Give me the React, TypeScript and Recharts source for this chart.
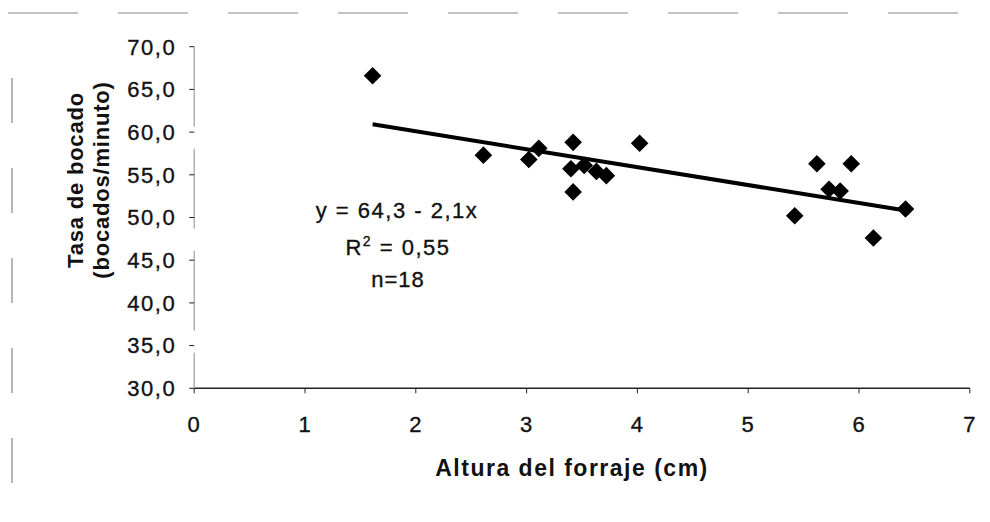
import React from 'react';
import { ScatterChart, Scatter, XAxis, YAxis } from 'recharts';

// Altura del forraje (cm) y tasa de bocado (bocados/minuto), n = 18
const alturas = [1.61, 2.61, 3.02, 3.11, 3.42, 3.42, 3.4, 3.52, 3.63, 3.72, 4.02, 5.42, 5.62, 5.73, 5.83, 5.93, 6.13, 6.42];
const tasas = [66.6, 57.3, 56.8, 58.1, 58.8, 53.0, 55.7, 56.1, 55.4, 54.9, 58.7, 50.2, 56.3, 53.3, 53.1, 56.3, 47.6, 51.0];

// recta de regresión: y = 64,3 - 2,1x
const intercepto = 64.3;
const pendiente = -2.1;

const xTicks = [0, 1, 2, 3, 4, 5, 6, 7];
const yTicks = [30, 35, 40, 45, 50, 55, 60, 65, 70];

const FONT = '"Liberation Sans", Arial, sans-serif';
const INK = '#111';

const puntos = alturas.map((x, i) => ({ x, y: tasas[i] }));
const xMin = Math.min(...alturas);
const xMax = Math.max(...alturas);
const tendencia = [xMin, xMax].map((x) => ({ x, y: intercepto + pendiente * x }));

const coma = (v: number) => v.toFixed(1).replace('.', ',');

// trazo fino para que el texto se vea algo más grueso
const tickStyle = {
  fill: INK,
  stroke: INK,
  strokeWidth: 0.35,
  fontSize: 22,
  fontFamily: FONT,
};

const Rombo = (props: any) => {
  const { cx, cy } = props;
  const r = 8.8;
  return (
    <polygon
      points={`${cx},${cy - r} ${cx + r},${cy} ${cx},${cy + r} ${cx - r},${cy}`}
      fill="#000"
    />
  );
};

const Nada = () => <g />;

export default function App() {
  return (
    <div style={{ position: 'relative', width: 974, height: 514, background: '#fff' }}>
      <ScatterChart
        width={974}
        height={506}
        margin={{ top: 38.7, right: 12.2, bottom: 65.7, left: 0 }}
      >
        <XAxis
          type="number"
          dataKey="x"
          domain={[0, 7]}
          ticks={xTicks}
          interval={0}
          height={60}
          axisLine={{ stroke: '#222', strokeWidth: 1.5 }}
          tickLine={{ stroke: '#222', strokeWidth: 1 }}
          tickSize={5}
          tickMargin={23}
          tick={{ ...tickStyle, letterSpacing: 1 }}
        />
        <YAxis
          type="number"
          dataKey="y"
          domain={[30, 70]}
          ticks={yTicks}
          interval={0}
          width={186.2}
          tickFormatter={coma}
          axisLine={{ stroke: '#8c8c8c', strokeWidth: 1, strokeDasharray: '80 22' }}
          tickLine={{ stroke: '#222', strokeWidth: 1 }}
          tickSize={5}
          tickMargin={13}
          tick={{ ...tickStyle, letterSpacing: 1.5 }}
        />
        <Scatter
          data={tendencia}
          shape={Nada}
          line={{ stroke: '#000', strokeWidth: 4 }}
          isAnimationActive={false}
        />
        <Scatter data={puntos} shape={Rombo} isAnimationActive={false} />
      </ScatterChart>

      <svg
        width={974}
        height={514}
        style={{ position: 'absolute', left: 0, top: 0, pointerEvents: 'none' }}
        fontFamily={FONT}
        fill={INK}
      >
        {/* marco del gráfico */}
        <line x1={0} y1={5} x2={974} y2={5} stroke="#888" strokeWidth={1.2} strokeDasharray="70 40" />
        <line x1={4} y1={70} x2={4} y2={512} stroke="#888" strokeWidth={1.2} strokeDasharray="45 45" />

        {/* ecuación de la recta */}
        <g stroke={INK} strokeWidth={0.35}>
          <text x={389} y={202} dy="0.35em" textAnchor="middle" fontSize={22} letterSpacing={1.5}>
            y = 64,3 - 2,1x
          </text>
          <text x={390} y={239} dy="0.35em" textAnchor="middle" fontSize={22} letterSpacing={1.5}>
            R<tspan fontSize={14} dy="-9">2</tspan>
            <tspan dy="9"> = 0,55</tspan>
          </text>
          <text x={390} y={271} dy="0.35em" textAnchor="middle" fontSize={22} letterSpacing={1}>
            n=18
          </text>
        </g>

        {/* títulos de los ejes */}
        <text
          x={67}
          y={172}
          dy="0.35em"
          textAnchor="middle"
          fontSize={22}
          fontWeight="bold"
          letterSpacing={0.8}
          transform="rotate(-90 67 172)"
        >
          Tasa de bocado
        </text>
        <text
          x={93}
          y={172}
          dy="0.35em"
          textAnchor="middle"
          fontSize={22}
          fontWeight="bold"
          letterSpacing={0.8}
          transform="rotate(-90 93 172)"
        >
          (bocados/minuto)
        </text>
        <text x={564} y={460} dy="0.35em" textAnchor="middle" fontSize={23} fontWeight="bold" letterSpacing={1.5}>
          Altura del forraje (cm)
        </text>
      </svg>
    </div>
  );
}
